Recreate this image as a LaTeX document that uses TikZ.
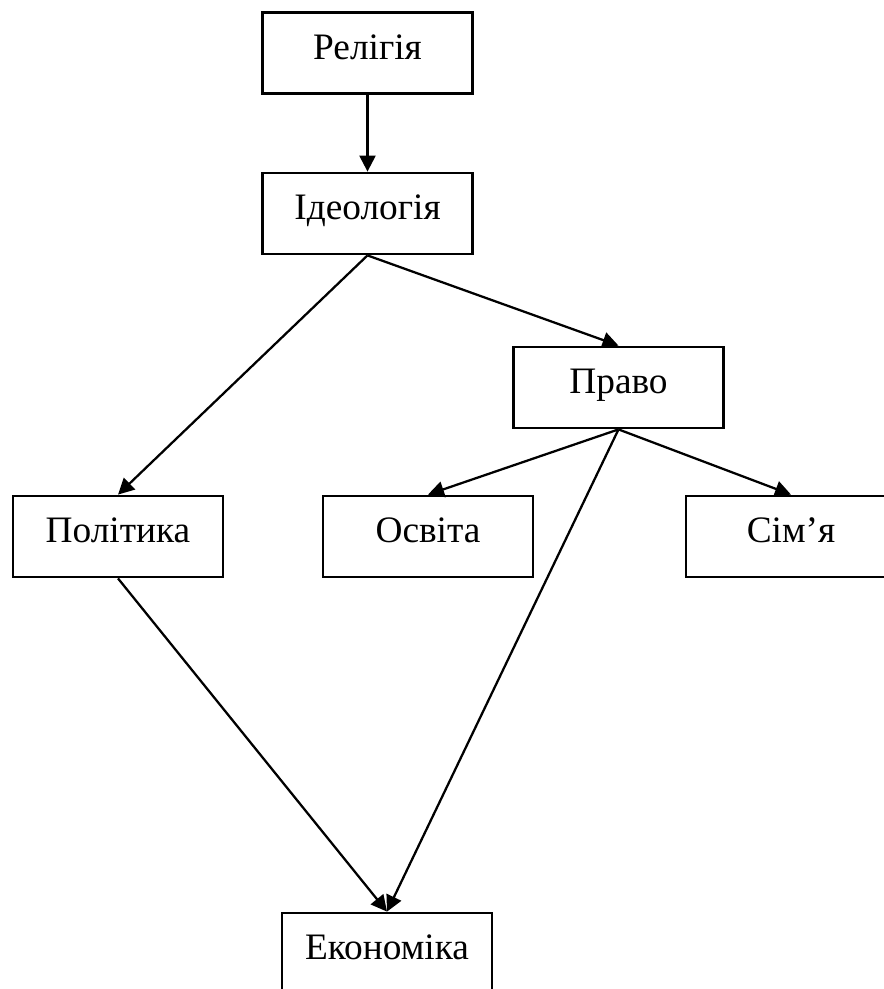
\documentclass[tikz,border=0pt]{standalone}
\usepackage{fontspec}
\setmainfont{Liberation Serif}
\usetikzlibrary{arrows.meta}
\begin{document}
\begin{tikzpicture}[x=0.75pt,y=-0.75pt,
  box/.style={draw, line width=2.1pt, minimum width=157.5pt, minimum height=60.75pt,
    inner sep=0pt, text height=18.5pt, text depth=9pt, font=\fontsize{28}{33}\selectfont},
  conn/.style={line width=1.7pt, -{Triangle[length=12pt,width=12pt]}}]
\useasboundingbox (0,0) rectangle (884,989);
\node[box] (rel) at (367.5,53) {Релігія};
\node[box] (ide) at (367.5,213.5) {Ідеологія};
\node[box] (pra) at (618.5,387.5) {Право};
\node[box] (pol) at (118,536.5) {Політика};
\node[box] (osv) at (428,536.5) {Освіта};
\node[box] (sim) at (791,536.5) {Сім’я};
\node[box] (eko) at (387,953.5) {Економіка};
\draw[conn] (rel) -- (ide);
\draw[conn] (ide.south) -- (pol.north);
\draw[conn] (ide.south) -- (pra.north);
\draw[conn] (pra.south) -- (osv.north);
\draw[conn] (pra.south) -- (sim.north);
\draw[conn] (pra.south) -- (eko.north);
\draw[conn] (pol.south) -- (eko.north);
\end{tikzpicture}
\end{document}
